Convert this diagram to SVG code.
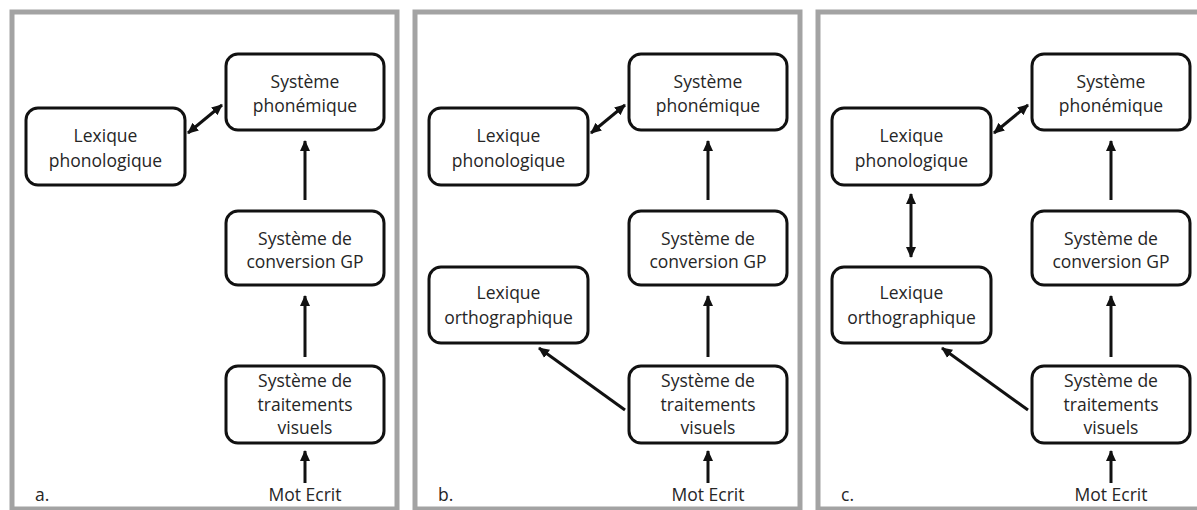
<svg xmlns="http://www.w3.org/2000/svg" width="1197" height="510" viewBox="0 0 1197 510">
<defs>
<style>
.panel{fill:#fff;stroke:#a3a3a3;stroke-width:5}
.box{fill:#fff;stroke:#111;stroke-width:3}
.t{font-family:"Open Sans","Noto Sans",sans-serif;font-size:17.5px;fill:#262626;text-anchor:middle}
.lbl{font-family:"Open Sans","Noto Sans",sans-serif;font-size:17.5px;fill:#262626}
.ar{stroke:#111;stroke-width:3;fill:none;marker-end:url(#ah)}
.dar{stroke:#111;stroke-width:3;fill:none;marker-end:url(#ah);marker-start:url(#ah)}
</style>
<marker id="ah" viewBox="0 0 11 11" refX="10" refY="5.5" markerWidth="11" markerHeight="11" markerUnits="userSpaceOnUse" orient="auto-start-reverse">
<path d="M0,0.5 L11,5.5 L0,10.5 z" fill="#111"/>
</marker>
</defs>
<rect width="1197" height="510" fill="#fff"/>

<!-- Panel a -->
<g id="panel-a">
<rect class="panel" x="12" y="12" width="385" height="497"/>
<g id="a-connectors">
<line class="ar" x1="305" y1="200" x2="305" y2="141"/>
<line class="ar" x1="305" y1="357" x2="305" y2="296"/>
<line class="ar" x1="305" y1="483" x2="305" y2="451"/>
<line class="dar" x1="188" y1="133" x2="222" y2="105"/>
</g>
<g id="a-phonemique"><rect class="box" x="226" y="54" width="158" height="76" rx="12"/><text class="t" x="305" y="88">Système</text><text class="t" x="305" y="112">phonémique</text></g>
<g id="a-lexphon"><rect class="box" x="26" y="108" width="159" height="77" rx="12"/><text class="t" x="105.5" y="142">Lexique</text><text class="t" x="105.5" y="167">phonologique</text></g>
<g id="a-cgp"><rect class="box" x="226" y="211" width="158" height="74" rx="12"/><text class="t" x="305" y="245">Système de</text><text class="t" x="305" y="268">conversion GP</text></g>
<g id="a-visuels"><rect class="box" x="226" y="366" width="158" height="77" rx="12"/><text class="t" x="305" y="387">Système de</text><text class="t" x="305" y="411">traitements</text><text class="t" x="305" y="434">visuels</text></g>
<g id="a-mot"><text class="t" x="305" y="501">Mot Ecrit</text></g>
<text class="lbl" x="35" y="501">a.</text>
</g>

<!-- Panel b -->
<g id="panel-b" transform="translate(403,0)">
<rect class="panel" x="12" y="12" width="385" height="497"/>
<g id="b-connectors">
<line class="ar" x1="305" y1="200" x2="305" y2="141"/>
<line class="ar" x1="305" y1="357" x2="305" y2="296"/>
<line class="ar" x1="305" y1="483" x2="305" y2="451"/>
<line class="dar" x1="188" y1="133" x2="222" y2="105"/>
<line class="ar" x1="222" y1="410" x2="136" y2="348"/>
</g>
<g id="b-phonemique"><rect class="box" x="226" y="54" width="158" height="76" rx="12"/><text class="t" x="305" y="88">Système</text><text class="t" x="305" y="112">phonémique</text></g>
<g id="b-lexphon"><rect class="box" x="26" y="108" width="159" height="77" rx="12"/><text class="t" x="105.5" y="142">Lexique</text><text class="t" x="105.5" y="167">phonologique</text></g>
<g id="b-lexortho"><rect class="box" x="26" y="267" width="159" height="76" rx="12"/><text class="t" x="105.5" y="299">Lexique</text><text class="t" x="105.5" y="324">orthographique</text></g>
<g id="b-cgp"><rect class="box" x="226" y="211" width="158" height="74" rx="12"/><text class="t" x="305" y="245">Système de</text><text class="t" x="305" y="268">conversion GP</text></g>
<g id="b-visuels"><rect class="box" x="226" y="366" width="158" height="77" rx="12"/><text class="t" x="305" y="387">Système de</text><text class="t" x="305" y="411">traitements</text><text class="t" x="305" y="434">visuels</text></g>
<g id="b-mot"><text class="t" x="305" y="501">Mot Ecrit</text></g>
<text class="lbl" x="35" y="501">b.</text>
</g>

<!-- Panel c -->
<g id="panel-c" transform="translate(806,0)">
<rect class="panel" x="12" y="12" width="385" height="497"/>
<g id="c-connectors">
<line class="ar" x1="305" y1="200" x2="305" y2="141"/>
<line class="ar" x1="305" y1="357" x2="305" y2="296"/>
<line class="ar" x1="305" y1="483" x2="305" y2="451"/>
<line class="dar" x1="188" y1="133" x2="222" y2="105"/>
<line class="ar" x1="222" y1="410" x2="136" y2="348"/>
<line class="dar" x1="105" y1="194" x2="105" y2="257"/>
</g>
<g id="c-phonemique"><rect class="box" x="226" y="54" width="158" height="76" rx="12"/><text class="t" x="305" y="88">Système</text><text class="t" x="305" y="112">phonémique</text></g>
<g id="c-lexphon"><rect class="box" x="26" y="108" width="159" height="77" rx="12"/><text class="t" x="105.5" y="142">Lexique</text><text class="t" x="105.5" y="167">phonologique</text></g>
<g id="c-lexortho"><rect class="box" x="26" y="267" width="159" height="76" rx="12"/><text class="t" x="105.5" y="299">Lexique</text><text class="t" x="105.5" y="324">orthographique</text></g>
<g id="c-cgp"><rect class="box" x="226" y="211" width="158" height="74" rx="12"/><text class="t" x="305" y="245">Système de</text><text class="t" x="305" y="268">conversion GP</text></g>
<g id="c-visuels"><rect class="box" x="226" y="366" width="158" height="77" rx="12"/><text class="t" x="305" y="387">Système de</text><text class="t" x="305" y="411">traitements</text><text class="t" x="305" y="434">visuels</text></g>
<g id="c-mot"><text class="t" x="305" y="501">Mot Ecrit</text></g>
<text class="lbl" x="35" y="501">c.</text>
</g>
</svg>
